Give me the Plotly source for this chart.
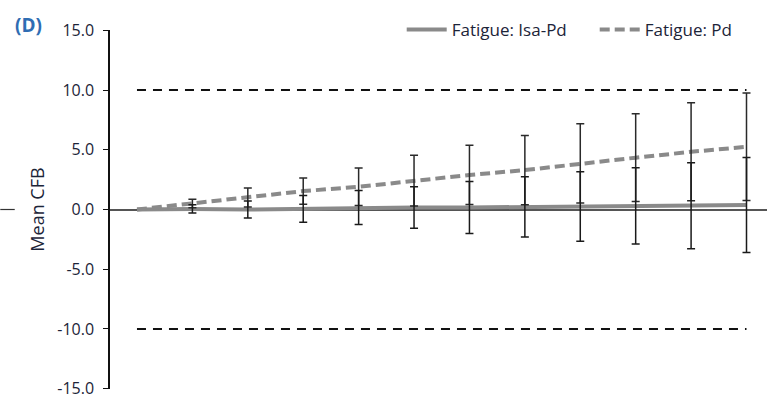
import plotly.graph_objects as go

# Visits (index 0 = baseline)
visits = list(range(12))

# Mean change from baseline
isa_pd_mean = [0.0, 0.05, 0.0, 0.05, 0.17, 0.17, 0.17, 0.22, 0.26, 0.31, 0.31, 0.37]
pd_mean = [0.0, 0.5, 1.0, 1.54, 1.9, 2.42, 2.89, 3.3, 3.86, 4.34, 4.83, 5.25]

# Half-width of the error bars
isa_pd_err = [0.0, 0.35, 0.72, 1.12, 1.43, 1.73, 2.17, 2.53, 2.91, 3.19, 3.6, 3.98]
pd_err = [0.0, 0.35, 0.8, 1.1, 1.57, 2.13, 2.48, 2.9, 3.31, 3.68, 4.1, 4.5]

# Clinically meaningful thresholds
thresholds = [10.0, -10.0]

y_ticks = [15, 10, 5, 0, -5, -10, -15]
y_tick_text = ["15.0", "10.0", "5.0", "0.0", "-5.0", "-10.0", "-15.0"]

font_family = "Open Sans, Noto Sans, sans-serif"
text_color = "#1c2438"
line_grey = "#8a8a8a"

fig = go.Figure()

fig.add_trace(go.Scatter(
    x=visits, y=isa_pd_mean, mode="lines", name="Fatigue: Isa-Pd",
    line=dict(color=line_grey, width=4),
))
fig.add_trace(go.Scatter(
    x=visits, y=pd_mean, mode="lines", name="Fatigue: Pd",
    line=dict(color=line_grey, width=4, dash="10px,5px"),
))

# Error bars drawn on top of the lines (baseline has none)
for mean, err, col in [(pd_mean, pd_err, "#2a2a2a"), (isa_pd_mean, isa_pd_err, "#1a1a1a")]:
    fig.add_trace(go.Scatter(
        x=visits[1:], y=mean[1:], mode="markers",
        marker=dict(size=1, opacity=0),
        error_y=dict(type="data", array=err[1:], visible=True,
                     color=col, thickness=1.5, width=4),
        showlegend=False, hoverinfo="skip",
    ))

for t in thresholds:
    fig.add_shape(type="line", xref="x", yref="y",
                  x0=visits[0], x1=visits[-1], y0=t, y1=t,
                  line=dict(color="#111111", width=2, dash="9px,7px"))

# short stub at the far left of the zero line
fig.add_shape(type="line", xref="paper", yref="y",
              x0=-0.167, x1=-0.145, y0=0, y1=0,
              line=dict(color="#333333", width=1.2))

fig.add_annotation(text="<b>(D)</b>", xref="paper", yref="paper",
                   x=-0.148, y=1.015, xanchor="left", yanchor="middle",
                   showarrow=False,
                   font=dict(family=font_family, size=19, color="#2f6db3"))

fig.update_layout(
    width=767, height=400,
    margin=dict(l=110, r=0, t=30, b=11, autoexpand=False),
    paper_bgcolor="white", plot_bgcolor="white",
    font=dict(family=font_family, size=16, color=text_color),
    showlegend=True,
    legend=dict(orientation="h", x=0.444, y=1.0, xanchor="left", yanchor="middle",
                bgcolor="rgba(0,0,0,0)", font=dict(size=17, color=text_color),
                itemwidth=40, tracegroupgap=0, entrywidth=138, entrywidthmode="pixels"),
    xaxis=dict(range=[-0.487, 11.37], showgrid=False, zeroline=False,
               showline=False, showticklabels=False, ticks=""),
    yaxis=dict(range=[-15.03, 15.03], tickvals=y_ticks, ticktext=y_tick_text,
               showgrid=False, zeroline=True, zerolinecolor="#555555", zerolinewidth=1.5,
               showline=True, linecolor="#111111", linewidth=1.5,
               ticks="outside", ticklen=5, tickwidth=1.2, tickcolor="#111111",
               ticklabelstandoff=6, ticklabeloverflow="allow",
               tickfont=dict(size=16, color=text_color),
               title=dict(text="Mean CFB", standoff=8,
                          font=dict(size=18, color=text_color))),
)

fig.write_html("out.html")
